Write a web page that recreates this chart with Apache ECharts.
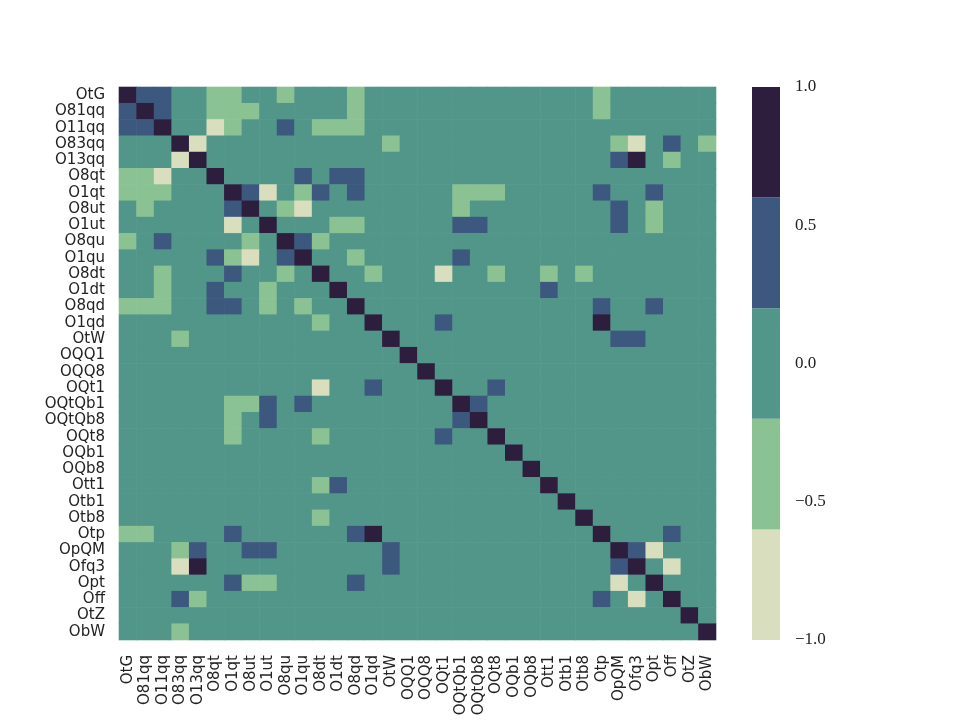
<!DOCTYPE html>
<html>
<head>
<meta charset="utf-8">
<script src="https://cdn.jsdelivr.net/npm/echarts@6/dist/echarts.min.js"></script>
<style>
  body { margin: 0; background: #fff; }
  #main { width: 960px; height: 720px; }
</style>
</head>
<body>
<div id="main"></div>
<script>
// operator names (rows top->bottom, columns left->right)
var labels = ['OtG', 'O81qq', 'O11qq', 'O83qq', 'O13qq', 'O8qt', 'O1qt', 'O8ut', 'O1ut',
  'O8qu', 'O1qu', 'O8dt', 'O1dt', 'O8qd', 'O1qd', 'OtW', 'OQQ1', 'OQQ8', 'OQt1',
  'OQtQb1', 'OQtQb8', 'OQt8', 'OQb1', 'OQb8', 'Ott1', 'Otb1', 'Otb8', 'Otp', 'OpQM',
  'Ofq3', 'Opt', 'Off', 'OtZ', 'ObW'];

// non-zero off-diagonal correlations [i, j, value], upper triangle
var pairs = [
  [0, 1, 0.45], [0, 2, 0.45], [0, 5, -0.35], [0, 6, -0.35], [0, 9, -0.3], [0, 13, -0.3], [0, 27, -0.3],
  [1, 2, 0.45], [1, 5, -0.35], [1, 6, -0.35], [1, 7, -0.3], [1, 13, -0.3], [1, 27, -0.3],
  [2, 5, -0.7], [2, 6, -0.35], [2, 9, 0.35], [2, 11, -0.3], [2, 12, -0.3], [2, 13, -0.3],
  [3, 4, -0.75], [3, 15, -0.3], [3, 28, -0.35], [3, 29, -0.75], [3, 31, 0.4], [3, 33, -0.3],
  [4, 28, 0.45], [4, 29, 0.9], [4, 31, -0.35],
  [5, 10, 0.35], [5, 12, 0.35], [5, 13, 0.4],
  [6, 7, 0.4], [6, 8, -0.7], [6, 10, -0.3], [6, 11, 0.35], [6, 13, 0.4], [6, 19, -0.3],
  [6, 20, -0.3], [6, 21, -0.3], [6, 27, 0.35], [6, 30, 0.4],
  [7, 9, -0.3], [7, 10, -0.7], [7, 19, -0.3], [7, 28, 0.4], [7, 30, -0.35],
  [8, 12, -0.3], [8, 13, -0.3], [8, 19, 0.35], [8, 20, 0.35], [8, 28, 0.4], [8, 30, -0.35],
  [9, 10, 0.4], [9, 11, -0.3],
  [10, 13, -0.3], [10, 19, 0.35],
  [11, 14, -0.3], [11, 18, -0.7], [11, 21, -0.3], [11, 24, -0.3], [11, 26, -0.3],
  [12, 24, 0.35],
  [13, 27, 0.4], [13, 30, 0.4],
  [14, 18, 0.35], [14, 27, 0.9],
  [15, 28, 0.4], [15, 29, 0.4],
  [18, 21, 0.35],
  [19, 20, 0.45],
  [27, 31, 0.4],
  [28, 29, 0.5], [28, 30, -0.7],
  [29, 31, -0.7]
];

// colour bins, low -> high
var binEdges = [-1, -0.6, -0.2, 0.2, 0.6, 1];
var binColors = ['#d9dfbe', '#8ac294', '#52968a', '#3c587e', '#2d1e3e'];

var n = labels.length;
var matrix = [];
for (var i = 0; i < n; i++) {
  matrix.push([]);
  for (var j = 0; j < n; j++) matrix[i].push(i === j ? 1 : 0);
}
pairs.forEach(function (p) {
  matrix[p[0]][p[1]] = p[2];
  matrix[p[1]][p[0]] = p[2];
});
var heatData = [];
for (var r = 0; r < n; r++)
  for (var c = 0; c < n; c++) heatData.push([c, r, matrix[r][c]]);

var pieces = [], cbData = [];
for (var k = 0; k < binColors.length; k++) {
  pieces.push({ gte: binEdges[k], lt: binEdges[k + 1], color: binColors[k] });
  cbData.push([0, binEdges[k], binEdges[k + 1]]);
}
pieces[pieces.length - 1].lte = 1;
delete pieces[pieces.length - 1].lt;

var sansFont = '"DejaVu Sans", sans-serif';
var serifFont = '"Liberation Serif", "DejaVu Serif", serif';

var myChart = echarts.init(document.getElementById('main'));
var option = {
  animation: false,
  backgroundColor: '#fff',
  grid: [
    { left: 119, top: 87, width: 597, height: 553 },
    { left: 752, top: 87, width: 28, height: 553 }
  ],
  xAxis: [
    {
      type: 'category', data: labels, gridIndex: 0,
      axisLine: { show: false }, axisTick: { show: false }, splitLine: { show: false },
      axisLabel: { rotate: 90, interval: 0, fontSize: 15, color: '#222', fontFamily: sansFont, margin: 15 }
    },
    { type: 'value', gridIndex: 1, min: 0, max: 1, show: false }
  ],
  yAxis: [
    {
      type: 'category', data: labels, gridIndex: 0, inverse: true,
      axisLine: { show: false }, axisTick: { show: false }, splitLine: { show: false },
      axisLabel: { interval: 0, fontSize: 15, color: '#222', fontFamily: sansFont, margin: 14 }
    },
    {
      type: 'value', gridIndex: 1, min: -1, max: 1, interval: 0.5, position: 'right',
      axisLine: { show: false }, axisTick: { show: false }, splitLine: { show: false },
      axisLabel: {
        fontSize: 17, color: '#222', fontFamily: serifFont, margin: 15,
        formatter: function (v) { return (v < 0 ? '\u2212' : '') + Math.abs(v).toFixed(1); }
      }
    }
  ],
  visualMap: {
    type: 'piecewise', show: false, seriesIndex: 0, dimension: 2, pieces: pieces
  },
  series: [
    {
      type: 'custom', xAxisIndex: 0, yAxisIndex: 0, data: heatData,
      encode: { x: 0, y: 1 },
      renderItem: function (params, api) {
        var ctr = api.coord([api.value(0), api.value(1)]);
        var sz = api.size([1, 1]);
        return {
          type: 'rect',
          shape: { x: ctr[0] - sz[0] / 2 - 0.3, y: ctr[1] - sz[1] / 2 - 0.3, width: sz[0] + 0.6, height: sz[1] + 0.6 },
          style: { fill: api.visual('color') }
        };
      }
    },
    {
      type: 'custom', xAxisIndex: 1, yAxisIndex: 1, data: cbData,
      encode: { x: 0, y: [1, 2] }, clip: false,
      renderItem: function (params, api) {
        var p1 = api.coord([0, api.value(2)]);
        var p2 = api.coord([1, api.value(1)]);
        return {
          type: 'rect',
          shape: { x: p1[0], y: p1[1], width: p2[0] - p1[0], height: p2[1] - p1[1] },
          style: { fill: binColors[params.dataIndex] }
        };
      }
    }
  ]
};
myChart.setOption(option);
</script>
</body>
</html>
